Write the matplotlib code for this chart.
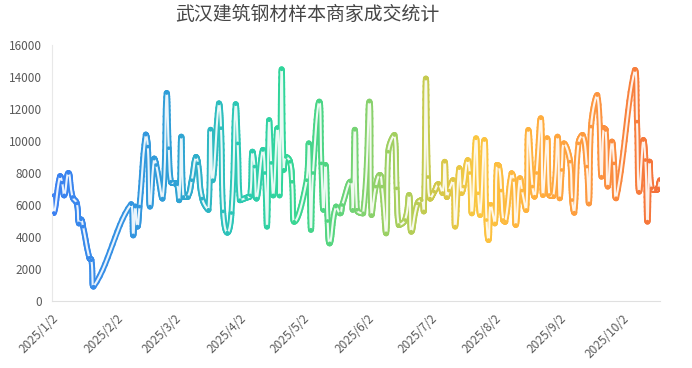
import numpy as np
import pandas as pd
import matplotlib
matplotlib.use("Agg")
import matplotlib.pyplot as plt
import matplotlib.dates as mdates
from matplotlib.collections import LineCollection
from matplotlib.colors import LinearSegmentedColormap

plt.rcParams['font.family'] = ['Noto Sans CJK SC', 'DejaVu Sans']

title = "武汉建筑钢材样本商家成交统计"

# values (daily deals)
dates = [
    "2025-01-02", "2025-01-03", "2025-01-06", "2025-01-07", "2025-01-08", "2025-01-10",
    "2025-01-12", "2025-01-14", "2025-01-15", "2025-01-16", "2025-01-17", "2025-01-20",
    "2025-01-21", "2025-01-22",
    "2025-02-09", "2025-02-10", "2025-02-11", "2025-02-12", "2025-02-13", "2025-02-16",
    "2025-02-17", "2025-02-18", "2025-02-20", "2025-02-21", "2025-02-24", "2025-02-26",
    "2025-02-27", "2025-02-28",
    "2025-03-02", "2025-03-03", "2025-03-04", "2025-03-05", "2025-03-06", "2025-03-08",
    "2025-03-10", "2025-03-12", "2025-03-13", "2025-03-15", "2025-03-18", "2025-03-19",
    "2025-03-20", "2025-03-23", "2025-03-24", "2025-03-25", "2025-03-27", "2025-03-29",
    "2025-03-31",
    "2025-04-01", "2025-04-02", "2025-04-05", "2025-04-07", "2025-04-08", "2025-04-09",
    "2025-04-10", "2025-04-13", "2025-04-14", "2025-04-15", "2025-04-16", "2025-04-17",
    "2025-04-18", "2025-04-20", "2025-04-21", "2025-04-22", "2025-04-23", "2025-04-24",
    "2025-04-26", "2025-04-27", "2025-04-28",
    "2025-05-04", "2025-05-05", "2025-05-06", "2025-05-07", "2025-05-10", "2025-05-11",
    "2025-05-12", "2025-05-13", "2025-05-14", "2025-05-15", "2025-05-18", "2025-05-20",
    "2025-05-21", "2025-05-25", "2025-05-26", "2025-05-27", "2025-05-28", "2025-05-31",
    "2025-06-03", "2025-06-04", "2025-06-06", "2025-06-08", "2025-06-09", "2025-06-11",
    "2025-06-12", "2025-06-15", "2025-06-16", "2025-06-17", "2025-06-20", "2025-06-22",
    "2025-06-23", "2025-06-26", "2025-06-28", "2025-06-29", "2025-06-30",
    "2025-07-01", "2025-07-02", "2025-07-04", "2025-07-06", "2025-07-08", "2025-07-09",
    "2025-07-10", "2025-07-11", "2025-07-13", "2025-07-14", "2025-07-16", "2025-07-17",
    "2025-07-18", "2025-07-20", "2025-07-21", "2025-07-22", "2025-07-24", "2025-07-25",
    "2025-07-26", "2025-07-28", "2025-07-29", "2025-07-30", "2025-07-31",
    "2025-08-02", "2025-08-03", "2025-08-04", "2025-08-05", "2025-08-06", "2025-08-07",
    "2025-08-10", "2025-08-11", "2025-08-12", "2025-08-14", "2025-08-15", "2025-08-17",
    "2025-08-18", "2025-08-20", "2025-08-21", "2025-08-22", "2025-08-24", "2025-08-25",
    "2025-08-27", "2025-08-28", "2025-08-30",
    "2025-09-01", "2025-09-02", "2025-09-03", "2025-09-04", "2025-09-07", "2025-09-08",
    "2025-09-09", "2025-09-11", "2025-09-13", "2025-09-15", "2025-09-16", "2025-09-17",
    "2025-09-20", "2025-09-22", "2025-09-23", "2025-09-24", "2025-09-25", "2025-09-27",
    "2025-09-28", "2025-09-29",
    "2025-10-08", "2025-10-09", "2025-10-10", "2025-10-12", "2025-10-13", "2025-10-14",
    "2025-10-15", "2025-10-16", "2025-10-18", "2025-10-19", "2025-10-20",
]
values = [
    6600, 5500, 7800, 7400, 6600, 8000,
    6500, 6100, 4850, 5100, 4650, 2700,
    2550, 900,
    6050, 4100, 5900, 4650, 5900, 10400,
    9650, 5900, 8900, 8500, 6400, 13000,
    9550, 7450,
    7350, 7300, 6300, 10270, 6500, 6500,
    7550, 9000, 8600, 6400, 5700, 10700,
    7550, 12350, 10800, 5600, 4270, 5500,
    12300,
    9850, 6300, 6450, 6600, 9330, 8400,
    6400, 9440, 8000, 4650, 11300, 8630,
    6600, 10800, 6600, 14480, 8200, 9000,
    8700, 7450, 4950,
    7550, 9850, 4450, 8000, 12460, 8600,
    5700, 8500, 5000, 3600, 5900, 5480,
    6000, 7460, 5700, 10700, 5700, 5480,
    12460, 5375, 7150, 7875, 7150, 4230,
    9330, 10375, 7040, 4750, 5060, 6625,
    4330, 6100, 6300, 5600, 13900,
    7750, 6400, 6830, 7300, 6750, 8700,
    6500, 6900, 7550, 4650, 8300, 6750,
    7150, 8800, 8000, 5480, 10170, 6730,
    5375, 10060, 5060, 3810, 6000,
    4850, 8500, 8400, 6900, 5060, 4960,
    7980, 7560, 4750, 7670, 6900, 5690,
    10690, 7150, 6520, 8000, 11420, 6625,
    10170, 6625, 6560,
    10270, 6420, 8190, 9850, 8710, 6310,
    5520, 9850, 10375, 8400, 6100, 10900,
    12870, 7770, 10790, 10690, 7150, 9960,
    8600, 6420,
    14440, 11210, 6830, 10060, 8810, 4960,
    8710, 7040, 6940, 7040, 7560,
]

tick_dates = ["2025-01-02", "2025-02-02", "2025-03-02", "2025-04-02", "2025-05-02",
              "2025-06-02", "2025-07-02", "2025-08-02", "2025-09-02", "2025-10-02"]
tick_labels = ["2025/1/2", "2025/2/2", "2025/3/2", "2025/4/2", "2025/5/2",
               "2025/6/2", "2025/7/2", "2025/8/2", "2025/9/2", "2025/10/2"]

# gradient stops along the x axis (fraction of axis width, colour)
grad_pos = [0.0, 0.2, 0.3, 0.38, 0.45, 0.53, 0.6, 0.63, 0.7, 0.8, 0.9, 1.0]
grad_col = ["#3b80f2", "#2fa0d6", "#2cc7b6", "#30d69a", "#4fd582", "#8ed16a",
            "#b9cd55", "#cfc84a", "#fbc640", "#ffae3e", "#fc9440", "#f4703a"]

x = mdates.date2num(pd.to_datetime(dates))
y = np.array(values, dtype=float)

x0 = mdates.date2num(pd.Timestamp("2025-01-02"))
x1 = x0 + 291


def smooth_curve(px, py, smooth=0.5, n=14):
    # bezier smoothing similar to echarts' smooth line
    m = len(px)
    cin = np.zeros((m, 2))
    cout = np.zeros((m, 2))
    for i in range(m):
        cx, cy = px[i], py[i]
        ppx, ppy = (px[i - 1], py[i - 1]) if i > 0 else (cx, cy)
        nx, ny = (px[i + 1], py[i + 1]) if i < m - 1 else (cx, cy)
        vx, vy = nx - ppx, ny - ppy
        l0 = np.hypot(cx - ppx, cy - ppy)
        l1 = np.hypot(nx - cx, ny - cy)
        r = l1 / (l0 + l1) if (l0 + l1) > 0 else 0.5
        ox = np.clip(cx + vx * smooth * r, min(cx, nx), max(cx, nx))
        oy = np.clip(cy + vy * smooth * r, min(cy, ny), max(cy, ny))
        ix = np.clip(cx - vx * smooth * (1 - r), min(cx, ppx), max(cx, ppx))
        iy = np.clip(cy - vy * smooth * (1 - r), min(cy, ppy), max(cy, ppy))
        cout[i] = ox, oy
        cin[i] = ix, iy
    t = np.linspace(0, 1, n, endpoint=False)[:, None]
    out = []
    for i in range(m - 1):
        p0 = np.array([px[i], py[i]])
        p3 = np.array([px[i + 1], py[i + 1]])
        b = ((1 - t) ** 3 * p0 + 3 * (1 - t) ** 2 * t * cout[i]
             + 3 * (1 - t) * t ** 2 * cin[i + 1] + t ** 3 * p3)
        out.append(b)
    out.append(np.array([[px[-1], py[-1]]]))
    return np.vstack(out)


# smooth in pixel space so curve shapes follow the screen
kx, ky = 2.092, 0.016
curve = smooth_curve((x - x0) * kx, y * ky)
cxs = curve[:, 0] / kx + x0
cys = curve[:, 1] / ky

cmap = LinearSegmentedColormap.from_list("grad", list(zip(grad_pos, grad_col)))
norm = plt.Normalize(x0, x1)

fig = plt.figure(figsize=(6.92, 3.68), dpi=100)
ax = fig.add_axes([51.5 / 692, 67 / 368, (660 - 51.5) / 692, (301 - 45) / 368])

pts = np.column_stack([cxs, cys])
segs = np.stack([pts[:-1], pts[1:]], axis=1)
lc = LineCollection(segs, colors=cmap(norm((pts[:-1, 0] + pts[1:, 0]) / 2)),
                    linewidths=4.3, capstyle="round", joinstyle="round", zorder=2)
ax.add_collection(lc)
ax.plot(cxs, cys, color="white", lw=1.5, alpha=0.9, solid_capstyle="round",
        solid_joinstyle="round", zorder=3)
ax.scatter(x, y, s=7, c=cmap(norm(x)), linewidths=0, zorder=4)

ax.set_xlim(x0 - 0.1, x1)
ax.set_ylim(0, 16000)
ax.set_yticks(np.arange(0, 16001, 2000))
ax.set_xticks(mdates.date2num(pd.to_datetime(tick_dates)))
ax.set_xticklabels(tick_labels, rotation=45, ha="right", va="top",
                   rotation_mode="anchor")

ax.tick_params(axis="both", length=0, labelsize=8.5, colors="#5a5a5a")
ax.tick_params(axis="y", pad=7)
ax.tick_params(axis="x", pad=8)
for s in ["top", "right"]:
    ax.spines[s].set_visible(False)
ax.spines["left"].set_color("#e8e8e8")
ax.spines["bottom"].set_color("#e0e0e0")
ax.spines["left"].set_linewidth(0.8)
ax.spines["bottom"].set_linewidth(0.8)

fig.text(307.5 / 692, 1 - 14 / 368, title, ha="center", va="center",
         fontsize=13.6, color="#464646")

fig.savefig("out.png", dpi=100)
